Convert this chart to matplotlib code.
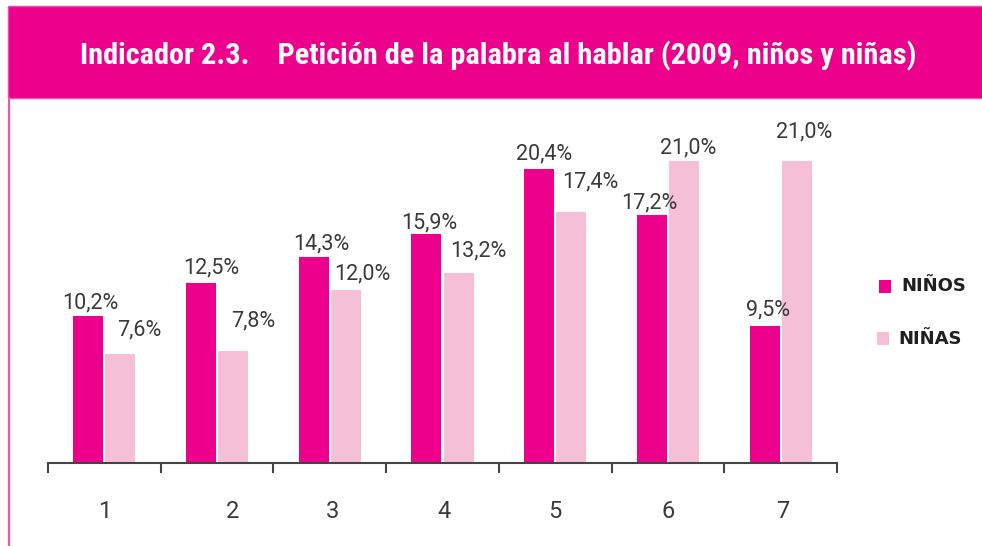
import matplotlib
matplotlib.use("Agg")
from matplotlib import pyplot as plt
from matplotlib.patches import Rectangle
from matplotlib.lines import Line2D
import numpy as np

# datos
groups = ["1", "2", "3", "4", "5", "6", "7"]
ninos = [10.2, 12.5, 14.3, 15.9, 20.4, 17.2, 9.5]
ninas = [7.6, 7.8, 12.0, 13.2, 17.4, 21.0, 21.0]
series_names = ["NIÑOS", "NIÑAS"]
title = "Indicador 2.3.    Petición de la palabra al hablar (2009, niños y niñas)"

# label placement tweaks (pixels: dx, dy above bar top)
ninos_shift = [(2, 13), (10, 15), (8, 13), (3, 11), (5, 15), (-3, 12), (3, 16)]
ninas_shift = [(19, 24), (20, 30), (17, 16), (20, 22), (19, 31), (4, 13), (7, 29)]
# category labels are not exactly centred in the original (pixels)
group_label_dx = [0, 15, 3, 2, 0, 0, 2]

MAGENTA = "#EC008C"
PINK = "#F6BFD8"
TEXT = "#3a3a3a"

W, H = 982, 546
fig = plt.figure(figsize=(W / 100, H / 100), dpi=100)


def fx(px):
    return px / W


def fy(py):
    return 1 - py / H


# banner and frame
fig.patches.append(Rectangle((fx(8), fy(98)), 1.05 - fx(8), fy(6) - fy(98),
                             transform=fig.transFigure, facecolor=MAGENTA,
                             edgecolor="#F04CA8", linewidth=1))
fig.lines.append(Line2D([fx(8.5), fx(8.5)], [fy(98), 0], transform=fig.transFigure,
                        color="#EE55AA", linewidth=1.5))
title_txt = fig.text(fx(80), fy(64), title, color="white", fontsize=19, fontweight="bold",
                     family=["Roboto Condensed", "Lato", "DejaVu Sans"],
                     va="baseline", ha="left")
# fit title to the banner width (80 -> 918 px)
fig.canvas.draw()
tw = title_txt.get_window_extent().width
title_txt.set_fontsize(19 * 838 / tw)

# axes
px_per_unit = 14.4
ymax = 24.5
left, right, base = 48, 837, 463
ax = fig.add_axes([fx(left), fy(base), fx(right - left), ymax * px_per_unit / H])
ax.set_ylim(0, ymax)
ax.set_xlim(-0.5, len(groups) - 0.5)

x = np.arange(len(groups))
bw = 30 / 112.7
off = 16 / 112.7
ax.bar(x - off, ninos, bw, color=MAGENTA, linewidth=0)
ax.bar(x + off, ninas, bw, color=PINK, linewidth=0)

for xs, vals, shifts in ((x - off, ninos, ninos_shift), (x + off, ninas, ninas_shift)):
    for xi, v, (dx, dy) in zip(xs, vals, shifts):
        ax.annotate(f"{v:.1f}%".replace(".", ","), xy=(xi, v), xytext=(dx, dy),
                    textcoords="offset pixels", ha="center", va="center",
                    fontsize=15.5, color=TEXT, family="Roboto")

for s in ("top", "right", "left"):
    ax.spines[s].set_visible(False)
ax.spines["bottom"].set_color("#444444")
ax.spines["bottom"].set_linewidth(1.5)
ax.set_yticks([])
ax.set_xticks(np.arange(len(groups) + 1) - 0.5)
ax.set_xticklabels([])
ax.tick_params(axis="x", length=7, width=1.5, color="#444444", direction="out")
label_y = -(512 - base) / (ymax * px_per_unit)
for i, g in enumerate(groups):
    ax.annotate(g, xy=(i, label_y), xycoords=ax.get_xaxis_transform(),
                xytext=(group_label_dx[i], 0), textcoords="offset pixels",
                ha="center", va="center", fontsize=17, color=TEXT,
                family="Roboto", annotation_clip=False)

# legend
fig.patches.append(Rectangle((fx(879), fy(293)), fx(12), 13 / H, transform=fig.transFigure,
                             facecolor=MAGENTA, linewidth=0))
fig.patches.append(Rectangle((fx(877), fy(345)), fx(12), 13 / H, transform=fig.transFigure,
                             facecolor=PINK, linewidth=0))
fig.text(fx(901), fy(286), series_names[0], fontsize=13, fontweight="bold",
         color="#231F20", va="center", ha="left")
fig.text(fx(898), fy(339), series_names[1], fontsize=13, fontweight="bold",
         color="#231F20", va="center", ha="left")

fig.savefig("out.png", dpi=100, facecolor="white")
